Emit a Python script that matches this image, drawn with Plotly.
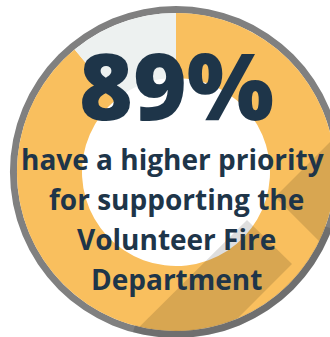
import math
import plotly.graph_objects as go

# ---- data ----
labels = ["Higher priority", "Other"]
values = [89, 11]
headline = "89%"
caption_lines = ["have a higher priority", "for supporting the", "Volunteer Fire", "Department"]

# ---- style / geometry (pixels) ----
W, H = 352, 344
CX, CY = 176, 172
R_RING, R_DONUT, R_HOLE = 166, 159, 94
ORANGE, LIGHT, RING, NAVY = "#F9BF5E", "#EDF1F0", "#808080", "#1E3549"
SHADOW = "rgba(0,0,0,0.13)"
FONT = "Open Sans"
CAPTION_X = [172, 176, 176, 176]


def px_dom(r):
    return dict(x=[(CX - r) / W, (CX + r) / W], y=[1 - (CY + r) / H, 1 - (CY - r) / H])


def to_paper(pts):
    return [(x / W, 1 - y / H) for x, y in pts]


def path_of(pts):
    p = to_paper(pts)
    return "M " + " L ".join(f"{x:.5f},{y:.5f}" for x, y in p) + " Z"


def circle_poly(r, n=240):
    return [(CX + r * math.cos(2 * math.pi * k / n), CY + r * math.sin(2 * math.pi * k / n)) for k in range(n)]


def clip(subject, clipper):
    def inside(p, a, b):
        return (b[0] - a[0]) * (p[1] - a[1]) - (b[1] - a[1]) * (p[0] - a[0]) >= 0

    def inter(p1, p2, a, b):
        x1, y1 = p1; x2, y2 = p2; x3, y3 = a; x4, y4 = b
        d = (x1 - x2) * (y3 - y4) - (y1 - y2) * (x3 - x4)
        t = ((x1 - x3) * (y3 - y4) - (y1 - y3) * (x3 - x4)) / d
        return (x1 + t * (x2 - x1), y1 + t * (y2 - y1))

    out = subject
    n = len(clipper)
    for i in range(n):
        a, b = clipper[i], clipper[(i + 1) % n]
        inp, out = out, []
        if not inp:
            break
        s = inp[-1]
        for e in inp:
            if inside(e, a, b):
                if not inside(s, a, b):
                    out.append(inter(s, e, a, b))
                out.append(e)
            elif inside(s, a, b):
                out.append(inter(s, e, a, b))
            s = e
    return out


def annulus_sector(r_in, r_out, a0, a1, n=60):
    pts = []
    for k in range(n + 1):
        a = math.radians(a0 + (a1 - a0) * k / n)
        pts.append((CX + r_out * math.sin(a), CY - r_out * math.cos(a)))
    for k in range(n + 1):
        a = math.radians(a1 - (a1 - a0) * k / n)
        pts.append((CX + r_in * math.sin(a), CY - r_in * math.cos(a)))
    return pts


fig = go.Figure()
fig.add_trace(go.Pie(values=[1], marker=dict(colors=[RING]), hole=R_DONUT / R_RING,
                     domain=px_dom(R_RING), textinfo="none", hoverinfo="skip", showlegend=False, sort=False))
fig.add_trace(go.Pie(labels=labels, values=values, marker=dict(colors=[ORANGE, LIGHT]), hole=R_HOLE / R_DONUT,
                     domain=px_dom(R_DONUT), textinfo="none", sort=False, direction="clockwise",
                     rotation=0, showlegend=False))

disk = circle_poly(R_DONUT)
shadow1 = [(275, 197), (345, 127), (420, 200), (322, 244)]
shadow2 = [(247, 220), (292, 264), (200, 356), (110, 356)]
shapes = []
for poly in (shadow1, shadow2):
    c = clip(poly, disk)
    if len(c) > 2:
        shapes.append(dict(type="path", path=path_of(c), fillcolor=SHADOW, line=dict(width=0),
                           xref="paper", yref="paper", layer="above"))
shapes.append(dict(type="path", path=path_of(annulus_sector(R_DONUT - 0.5, R_RING, 110, 195)), fillcolor=SHADOW,
                   line=dict(width=0), xref="paper", yref="paper", layer="above"))

annotations = [dict(text=headline, x=CX / W, y=1 - 84 / H, xref="paper", yref="paper", showarrow=False,
                    xanchor="center", yanchor="middle", height=96, valign="middle",
                    font=dict(family=FONT, size=92, color=NAVY, weight=800))]
for i, line in enumerate(caption_lines):
    annotations.append(dict(text=line, x=CAPTION_X[i] / W, y=1 - (159 + 40 * i) / H, xref="paper", yref="paper",
                            showarrow=False, xanchor="center", yanchor="middle",
                            font=dict(family=FONT, size=28, color=NAVY, weight=700)))

fig.update_layout(width=W, height=H, margin=dict(l=0, r=0, t=0, b=0), paper_bgcolor="white",
                  plot_bgcolor="white", shapes=shapes, annotations=annotations, showlegend=False)

fig.write_html("out.html", config={"displayModeBar": False},
               post_script="document.body.style.overflow='hidden';document.documentElement.style.overflow='hidden';")
